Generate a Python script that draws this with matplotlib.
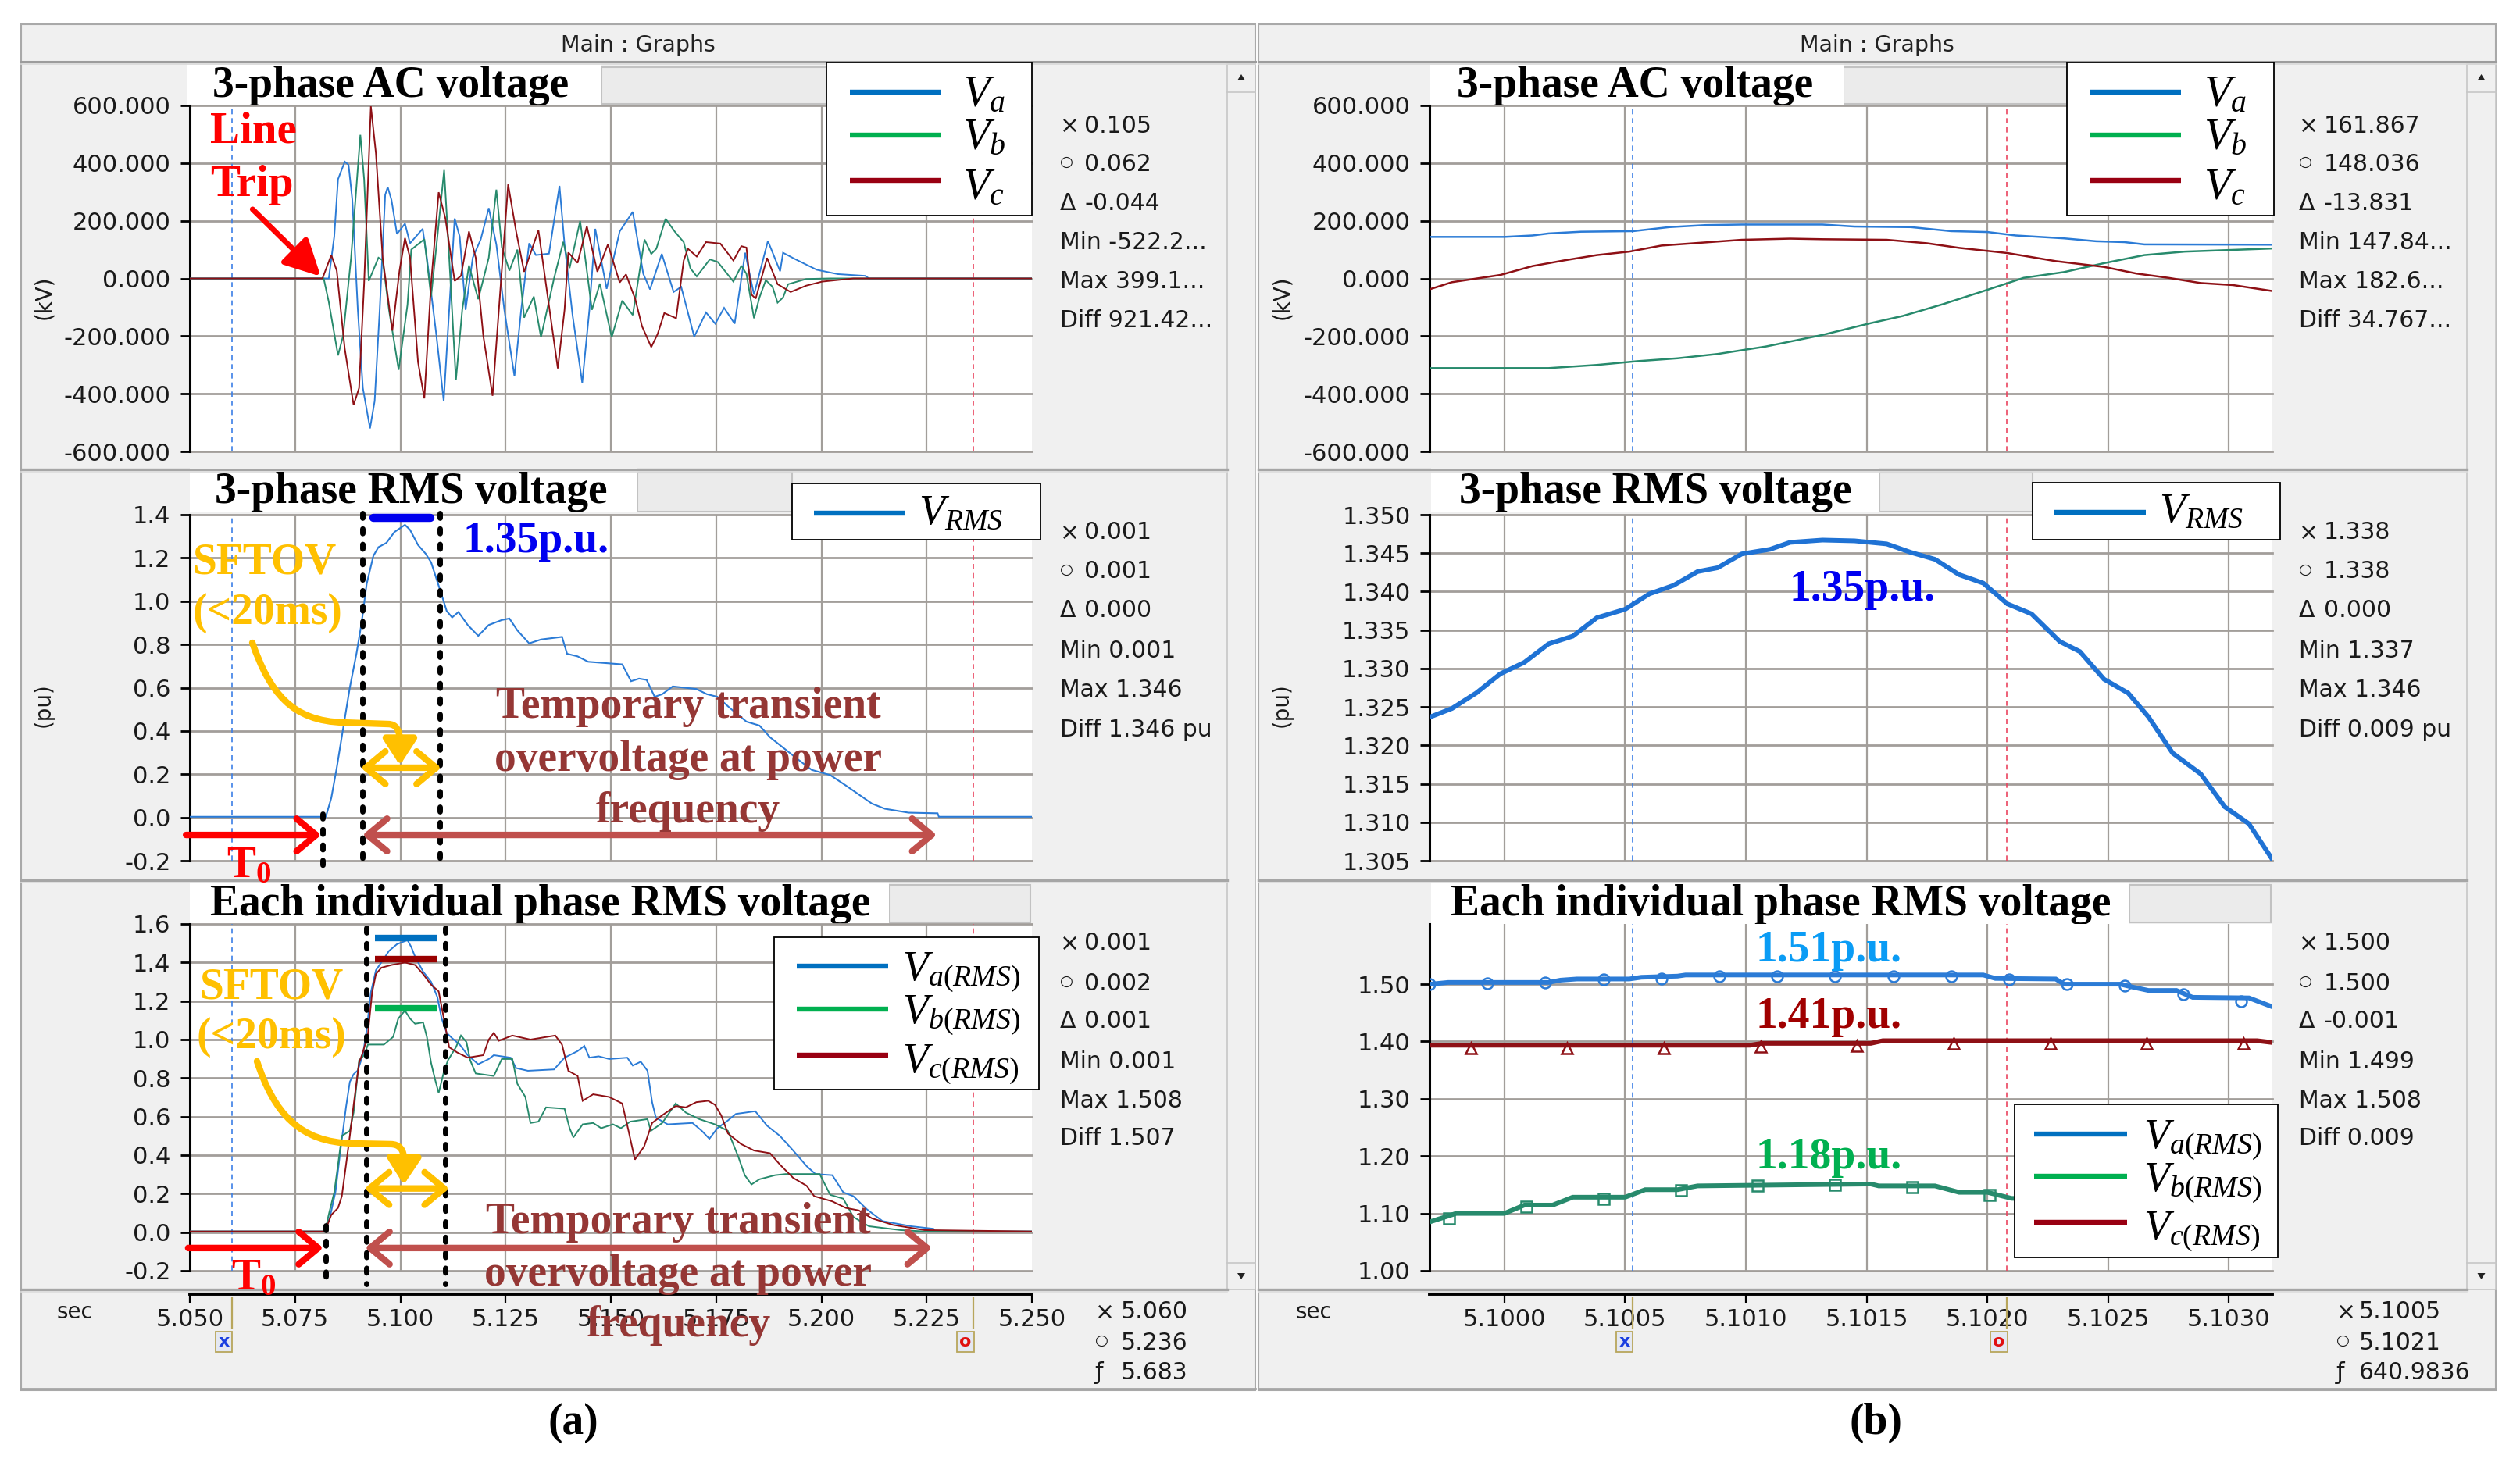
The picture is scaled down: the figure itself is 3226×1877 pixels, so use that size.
import numpy as np
import matplotlib
matplotlib.use("Agg")
import matplotlib.pyplot as plt
from matplotlib.patches import Rectangle, PathPatch, Polygon
from matplotlib.path import Path
import matplotlib.transforms as mtrans

plt.rcParams['font.family'] = ['DejaVu Sans']
plt.rcParams['mathtext.fontset'] = 'custom'
plt.rcParams['mathtext.rm'] = 'Liberation Serif'
plt.rcParams['mathtext.it'] = 'Liberation Serif:italic'
plt.rcParams['mathtext.bf'] = 'Liberation Serif:bold'

# ======================= DATA =======================
# (a) 3-phase AC voltage (time s, kV)
a_ac_va = [(5.050, 0), (5.0830, 0), (5.0843, 145), (5.0852, 344), (5.0868, 405), (5.0877, 394), (5.0886, 272),
           (5.0899, -109), (5.0911, -380), (5.0928, -520), (5.0939, -425), (5.0951, -109), (5.0964, 290),
           (5.0970, 317), (5.0979, 272), (5.0992, 154), (5.1011, 190), (5.1023, 122), (5.1053, 172),
           (5.1063, 72), (5.1085, -190), (5.1103, -425), (5.1116, -109), (5.1129, 208), (5.1141, 145),
           (5.1155, -109), (5.1172, 72), (5.1191, 136), (5.1210, 244), (5.1228, 118), (5.1247, -109),
           (5.1271, -339), (5.1287, -109), (5.1306, 122), (5.1322, 81), (5.1353, 86), (5.1378, 321),
           (5.1390, 118), (5.1409, -127), (5.1432, -362), (5.1449, -109), (5.1463, 172), (5.1490, -36),
           (5.1521, 163), (5.1552, 231), (5.1577, 16), (5.1593, -38), (5.1621, 85), (5.1649, -47),
           (5.1667, -29), (5.1698, -202), (5.1726, -118), (5.1748, -157), (5.1769, -102), (5.1794, -157),
           (5.1819, 89), (5.1840, -56), (5.1873, 130), (5.1902, 25), (5.1909, 89), (5.1939, 66),
           (5.1989, 30), (5.2039, 15), (5.2104, 9), (5.2113, 0), (5.250, 0)]
a_ac_vb = [(5.050, 0), (5.0818, 0), (5.0830, -81), (5.0852, -267), (5.0864, -199), (5.0883, 72), (5.0905, 498),
           (5.0914, 344), (5.0925, -9), (5.0948, 72), (5.0958, 63), (5.0973, -109), (5.0996, -317),
           (5.1017, -91), (5.1026, 100), (5.1057, 136), (5.1073, -63), (5.1088, 145), (5.1104, 376),
           (5.1116, 72), (5.1132, -353), (5.1147, -109), (5.1163, 45), (5.1185, -72), (5.1210, 72),
           (5.1228, 308), (5.1241, 109), (5.1259, 27), (5.1278, 100), (5.1294, -136), (5.1317, -63),
           (5.1334, -204), (5.1365, 0), (5.1387, 127), (5.1402, 36), (5.1427, 199), (5.1439, 72),
           (5.1455, -109), (5.1474, -18), (5.1502, -204), (5.1527, -77), (5.1552, -127), (5.1580, 135),
           (5.1596, 85), (5.1608, 103), (5.1630, 207), (5.1652, 162), (5.1673, 126), (5.1689, 35),
           (5.1704, 7), (5.1735, 66), (5.1754, 57), (5.1791, -11), (5.1810, 44), (5.1822, 16),
           (5.1840, -138), (5.1853, -66), (5.1868, -6), (5.1884, -29), (5.1896, -84), (5.1909, -66),
           (5.1921, -20), (5.1964, -2), (5.2020, 0), (5.250, 0)]
a_ac_vc = [(5.050, 0), (5.0815, 0), (5.0836, 81), (5.0849, 27), (5.0868, -244), (5.0889, -439), (5.0902, -380),
           (5.0914, -18), (5.0930, 597), (5.0942, 434), (5.0958, 72), (5.0981, -181), (5.0998, 27),
           (5.1011, 140), (5.1023, 72), (5.1042, -290), (5.1057, -416), (5.1073, -18), (5.1091, 299),
           (5.1107, 208), (5.1129, -9), (5.1144, 9), (5.1163, 163), (5.1179, 72), (5.1197, -199),
           (5.1219, -407), (5.1234, -109), (5.1256, 326), (5.1275, 163), (5.1294, 23), (5.1328, 167),
           (5.1350, -63), (5.1374, -312), (5.1390, -109), (5.1399, 90), (5.1421, 54), (5.1443, 181),
           (5.1468, 23), (5.1493, 118), (5.1521, -14), (5.1536, 14), (5.1558, -72), (5.1574, -166),
           (5.1596, -238), (5.1611, -193), (5.1627, -120), (5.1655, -138), (5.1673, 62), (5.1683, 103),
           (5.1704, 76), (5.1726, 126), (5.1760, 121), (5.1791, 62), (5.1810, 112), (5.1822, 107),
           (5.1834, -56), (5.1844, -70), (5.1871, 71), (5.1896, -20), (5.1927, -47), (5.1964, -25),
           (5.2002, -11), (5.2076, 0), (5.250, 0)]

# (a) 3-phase RMS voltage (pu)
a_rms = [(5.050, 0.003), (5.0823, 0.003), (5.0836, 0.09), (5.0849, 0.23), (5.0864, 0.41), (5.0880, 0.60),
         (5.0896, 0.76), (5.0908, 0.90), (5.0920, 1.08), (5.0936, 1.21), (5.0948, 1.25), (5.0967, 1.27),
         (5.0986, 1.32), (5.1011, 1.353), (5.1023, 1.33), (5.1042, 1.26), (5.1060, 1.22), (5.1073, 1.18),
         (5.1088, 1.09), (5.1098, 1.03), (5.1110, 0.955), (5.1123, 0.925), (5.1138, 0.95), (5.1160, 0.89),
         (5.1185, 0.84), (5.1210, 0.89), (5.1241, 0.913), (5.1259, 0.92), (5.1278, 0.865), (5.1306, 0.805),
         (5.1334, 0.823), (5.1384, 0.835), (5.1396, 0.757), (5.1421, 0.745), (5.1446, 0.72), (5.1527, 0.708),
         (5.1548, 0.63), (5.1567, 0.642), (5.1585, 0.636), (5.1604, 0.558), (5.1622, 0.57), (5.1647, 0.606),
         (5.1703, 0.594), (5.1728, 0.57), (5.1753, 0.558), (5.1784, 0.504), (5.1822, 0.443), (5.1853, 0.425),
         (5.1878, 0.371), (5.1909, 0.323), (5.1940, 0.275), (5.1977, 0.22), (5.2021, 0.196), (5.2058, 0.148),
         (5.2089, 0.106), (5.2120, 0.064), (5.2151, 0.04), (5.2207, 0.022), (5.2276, 0.019), (5.2279, 0.003),
         (5.250, 0.003)]

# (a) individual phase RMS voltage (pu)
a_ph_va = [(5.050, 0.004), (5.0821, 0.004), (5.0833, 0.08), (5.0846, 0.21), (5.0858, 0.43), (5.0864, 0.53),
           (5.0871, 0.65), (5.0880, 0.78), (5.0889, 0.82), (5.0899, 0.84), (5.0911, 0.92), (5.0920, 1.05),
           (5.0930, 1.245), (5.0942, 1.36), (5.0958, 1.41), (5.0973, 1.46), (5.0992, 1.495), (5.1017, 1.516),
           (5.1026, 1.48), (5.1035, 1.43), (5.1054, 1.353), (5.1073, 1.30), (5.1088, 1.22), (5.1098, 1.11),
           (5.1110, 1.035), (5.1123, 1.007), (5.1141, 0.974), (5.1160, 0.919), (5.1185, 0.872), (5.1210, 0.899),
           (5.1222, 0.919), (5.1262, 0.906), (5.1275, 0.852), (5.1303, 0.838), (5.1365, 0.845), (5.1390, 0.906),
           (5.1421, 0.94), (5.1437, 0.967), (5.1449, 0.906), (5.1471, 0.913), (5.1496, 0.899), (5.1539, 0.906),
           (5.1552, 0.865), (5.1571, 0.885), (5.1587, 0.838), (5.1598, 0.675), (5.1607, 0.594), (5.1635, 0.56),
           (5.1694, 0.567), (5.1716, 0.526), (5.1734, 0.485), (5.1753, 0.54), (5.1778, 0.58), (5.1797, 0.614),
           (5.1843, 0.628), (5.1871, 0.553), (5.1902, 0.499), (5.1933, 0.424), (5.1965, 0.343), (5.1986, 0.302),
           (5.2026, 0.296), (5.2052, 0.207), (5.2076, 0.187), (5.2108, 0.119), (5.2145, 0.058), (5.2213, 0.031),
           (5.2266, 0.018), (5.2269, 0.004), (5.250, 0.004)]
a_ph_vb = [(5.050, 0.004), (5.0821, 0.004), (5.0830, 0.092), (5.0843, 0.207), (5.0852, 0.35), (5.0861, 0.50),
           (5.0880, 0.526), (5.0889, 0.621), (5.0902, 0.892), (5.0914, 0.919), (5.0923, 0.974), (5.0961, 0.974),
           (5.0983, 1.014), (5.0995, 1.109), (5.1011, 1.15), (5.1023, 1.109), (5.1035, 1.082), (5.1054, 1.089),
           (5.1063, 1.014), (5.1073, 0.879), (5.1082, 0.797), (5.1091, 0.723), (5.1104, 0.838), (5.1113, 0.892),
           (5.1132, 0.96), (5.1144, 1.021), (5.1157, 0.987), (5.1166, 0.892), (5.1179, 0.824), (5.1222, 0.811),
           (5.1241, 0.899), (5.1266, 0.899), (5.1278, 0.77), (5.1297, 0.702), (5.1309, 0.567), (5.1328, 0.574),
           (5.1346, 0.648), (5.1390, 0.641), (5.1402, 0.54), (5.1411, 0.492), (5.1433, 0.56), (5.1458, 0.567),
           (5.1477, 0.54), (5.1505, 0.56), (5.1524, 0.54), (5.1546, 0.574), (5.1587, 0.587), (5.1595, 0.526),
           (5.1622, 0.567), (5.1654, 0.668), (5.1678, 0.621), (5.1710, 0.587), (5.1747, 0.56), (5.1778, 0.526),
           (5.1803, 0.39), (5.1818, 0.296), (5.1834, 0.248), (5.1853, 0.275), (5.1890, 0.296), (5.1915, 0.302),
           (5.1996, 0.302), (5.2021, 0.194), (5.2052, 0.174), (5.2076, 0.079), (5.2113, 0.031), (5.2188, 0.011),
           (5.2245, 0.004), (5.250, 0.004)]
a_ph_vc = [(5.050, 0.004), (5.0821, 0.004), (5.0836, 0.09), (5.0852, 0.126), (5.0861, 0.187), (5.0871, 0.35),
           (5.0880, 0.50), (5.0889, 0.66), (5.0902, 0.88), (5.0911, 0.933), (5.0923, 1.028), (5.0933, 1.245),
           (5.0942, 1.34), (5.0955, 1.373), (5.0979, 1.387), (5.1011, 1.40), (5.1035, 1.387), (5.1054, 1.34),
           (5.1073, 1.285), (5.1091, 1.25), (5.1101, 1.136), (5.1116, 0.96), (5.1135, 0.933), (5.1160, 0.906),
           (5.1197, 0.919), (5.1210, 1.00), (5.1222, 1.035), (5.1234, 0.994), (5.1266, 1.021), (5.1309, 1.00),
           (5.1368, 1.021), (5.1384, 0.974), (5.1399, 0.838), (5.1421, 0.811), (5.1433, 0.682), (5.1458, 0.716),
           (5.1496, 0.702), (5.1527, 0.668), (5.1542, 0.526), (5.1557, 0.377), (5.1579, 0.445), (5.1598, 0.567),
           (5.1622, 0.607), (5.1654, 0.655), (5.1678, 0.648), (5.1703, 0.675), (5.1731, 0.682), (5.1747, 0.662),
           (5.1762, 0.607), (5.1778, 0.513), (5.1809, 0.458), (5.1840, 0.424), (5.1878, 0.41), (5.1902, 0.35),
           (5.1933, 0.282), (5.1965, 0.241), (5.1983, 0.187), (5.2026, 0.16), (5.2058, 0.126), (5.2089, 0.113),
           (5.2120, 0.072), (5.2170, 0.038), (5.2245, 0.011), (5.250, 0.004)]

# (b) zoomed 3-phase AC voltage (kV)
b_ac_va = [(5.099693, 144), (5.1000, 144), (5.100117, 149), (5.100183, 156), (5.100317, 162), (5.100533, 164),
           (5.100683, 178), (5.100833, 185), (5.100983, 187), (5.101317, 187), (5.10145, 180), (5.101683, 178),
           (5.10185, 164), (5.1020, 161), (5.102117, 149), (5.102317, 139), (5.10245, 129), (5.102567, 126),
           (5.10265, 118), (5.103183, 117)]
b_ac_vb = [(5.099693, -311), (5.100183, -311), (5.100383, -300), (5.10055, -287), (5.100717, -277),
           (5.100883, -262), (5.101083, -236), (5.101317, -196), (5.101517, -155), (5.10165, -130),
           (5.101817, -89), (5.101983, -44), (5.10215, 2), (5.102317, 22), (5.102483, 53), (5.10265, 81),
           (5.102817, 93), (5.102983, 98), (5.103183, 104)]
b_ac_vc = [(5.099693, -37), (5.099783, -13), (5.099983, 12), (5.100117, 43), (5.10025, 63), (5.100383, 81),
           (5.100517, 93), (5.10065, 114), (5.10085, 126), (5.100983, 134), (5.101183, 138), (5.101317, 136),
           (5.101583, 134), (5.10175, 122), (5.101883, 106), (5.102083, 88), (5.102283, 60), (5.102483, 40),
           (5.102617, 17), (5.10275, 2), (5.102883, -16), (5.103017, -23), (5.103183, -44)]
# (b) zoomed 3-phase RMS voltage (pu)
b_rms = [(5.099693, 1.3237), (5.099783, 1.3248), (5.099883, 1.3268), (5.099983, 1.3293), (5.100083, 1.3308),
         (5.100183, 1.3332), (5.100283, 1.3342), (5.100383, 1.3366), (5.1005, 1.3377), (5.1006, 1.3397),
         (5.1007, 1.3408), (5.1008, 1.3426), (5.100883, 1.3431), (5.100983, 1.3449), (5.1011, 1.3455),
         (5.101183, 1.3464), (5.101317, 1.3467), (5.10145, 1.3466), (5.101583, 1.3462), (5.101683, 1.3451),
         (5.101783, 1.3442), (5.101883, 1.3422), (5.101983, 1.3411), (5.102083, 1.3384), (5.102183, 1.3371),
         (5.1023, 1.3335), (5.102383, 1.3322), (5.102483, 1.3286), (5.102583, 1.3268), (5.102667, 1.3237),
         (5.102767, 1.3190), (5.102883, 1.3163), (5.102983, 1.3120), (5.103083, 1.3098), (5.103177, 1.3053)]
# (b) zoomed individual phase RMS (pu)
b_ph_va = [(5.099693, 1.500), (5.099767, 1.503), (5.100183, 1.503), (5.100233, 1.507), (5.1003, 1.509),
           (5.100517, 1.509), (5.100567, 1.512), (5.100717, 1.514), (5.10075, 1.516), (5.101983, 1.516),
           (5.102033, 1.510), (5.102283, 1.509), (5.102317, 1.500), (5.10255, 1.500), (5.1026, 1.495),
           (5.102667, 1.489), (5.102783, 1.489), (5.10285, 1.477), (5.103083, 1.476), (5.103183, 1.460)]
b_ph_vb = [(5.099693, 1.0855), (5.099767, 1.0954), (5.0998, 1.100), (5.1000, 1.100), (5.100083, 1.1145),
           (5.1002, 1.1145), (5.100283, 1.1283), (5.1005, 1.1283), (5.100583, 1.1414), (5.100717, 1.1414),
           (5.1008, 1.148), (5.101517, 1.1513), (5.10155, 1.148), (5.101783, 1.148), (5.101883, 1.1368),
           (5.1020, 1.1368), (5.1021, 1.1263), (5.103183, 1.120)]
b_ph_vc = [(5.099693, 1.3934), (5.101017, 1.3934), (5.101067, 1.3967), (5.101517, 1.3967), (5.101567, 1.4013),
           (5.103117, 1.4013), (5.103183, 1.398)]
# symbol markers on (b) phase RMS curves
b_mk_va = [(5.09969, 1.500), (5.09993, 1.502), (5.10017, 1.503), (5.10041, 1.508), (5.10065, 1.510),
           (5.10089, 1.514), (5.10113, 1.514), (5.10137, 1.514), (5.10161, 1.514), (5.10185, 1.514),
           (5.10209, 1.508), (5.10233, 1.500), (5.10257, 1.498), (5.10281, 1.482), (5.10305, 1.470)]
b_mk_vb = [(5.09977, 1.091), (5.10009, 1.112), (5.10041, 1.126), (5.10073, 1.141), (5.10105, 1.148),
           (5.10137, 1.150), (5.10169, 1.146), (5.10201, 1.132)]
b_mk_vc = [(5.09986, 1.388), (5.10026, 1.388), (5.10066, 1.388), (5.10106, 1.391), (5.10146, 1.392),
           (5.10186, 1.396), (5.10226, 1.396), (5.10266, 1.396), (5.10306, 1.396)]

# cursors
a_cursor_x, a_cursor_o = 5.060, 5.236
b_cursor_x, b_cursor_o = 5.10053, 5.10208

# ticks
a_xticks = [5.050, 5.075, 5.100, 5.125, 5.150, 5.175, 5.200, 5.225, 5.250]
a_xlabels = ['5.050', '5.075', '5.100', '5.125', '5.150', '5.175', '5.200', '5.225', '5.250']
b_xticks = [5.1000, 5.1005, 5.1010, 5.1015, 5.1020, 5.1025, 5.1030]
b_xlabels = ['5.1000', '5.1005', '5.1010', '5.1015', '5.1020', '5.1025', '5.1030']
ac_yticks = [-600, -400, -200, 0, 200, 400, 600]
ac_ylabels = ['-600.000', '-400.000', '-200.000', '0.000', '200.000', '400.000', '600.000']
a_rms_yticks = [-0.2, 0.0, 0.2, 0.4, 0.6, 0.8, 1.0, 1.2, 1.4]
a_rms_ylabels = ['-0.2', '0.0', '0.2', '0.4', '0.6', '0.8', '1.0', '1.2', '1.4']
a_ph_yticks = [-0.2, 0.0, 0.2, 0.4, 0.6, 0.8, 1.0, 1.2, 1.4, 1.6]
a_ph_ylabels = ['-0.2', '0.0', '0.2', '0.4', '0.6', '0.8', '1.0', '1.2', '1.4', '1.6']
b_rms_yticks = [1.305, 1.310, 1.315, 1.320, 1.325, 1.330, 1.335, 1.340, 1.345, 1.350]
b_rms_ylabels = ['1.305', '1.310', '1.315', '1.320', '1.325', '1.330', '1.335', '1.340', '1.345', '1.350']
b_ph_yticks = [1.00, 1.10, 1.20, 1.30, 1.40, 1.50]
b_ph_ylabels = ['1.00', '1.10', '1.20', '1.30', '1.40', '1.50']

# readouts
a_read = [[('×', '0.105'), ('○', '0.062'), ('Δ', '-0.044'), (None, 'Min -522.2...'), (None, 'Max 399.1...'), (None, 'Diff 921.42...')],
          [('×', '0.001'), ('○', '0.001'), ('Δ', '0.000'), (None, 'Min 0.001'), (None, 'Max 1.346'), (None, 'Diff 1.346 pu')],
          [('×', '0.001'), ('○', '0.002'), ('Δ', '0.001'), (None, 'Min 0.001'), (None, 'Max 1.508'), (None, 'Diff 1.507')]]
b_read = [[('×', '161.867'), ('○', '148.036'), ('Δ', '-13.831'), (None, 'Min 147.84...'), (None, 'Max 182.6...'), (None, 'Diff 34.767...')],
          [('×', '1.338'), ('○', '1.338'), ('Δ', '0.000'), (None, 'Min 1.337'), (None, 'Max 1.346'), (None, 'Diff 0.009 pu')],
          [('×', '1.500'), ('○', '1.500'), ('Δ', '-0.001'), (None, 'Min 1.499'), (None, 'Max 1.508'), (None, 'Diff 0.009')]]
a_xread = [('×', '5.060'), ('○', '5.236'), ('ƒ', '5.683')]
b_xread = [('×', '5.1005'), ('○', '5.1021'), ('ƒ', '640.9836')]

# ======================= STYLE / LAYOUT =======================
W, H, DPI = 3226, 1877, 100
fig = plt.figure(figsize=(W / DPI, H / DPI), dpi=DPI)
fig.patch.set_facecolor('white')
YPIX = mtrans.Affine2D().scale(1, -1).translate(0, H)

SERIF = 'Liberation Serif'
PANEL = '#f0f0f0'
GRID = '#a29e9a'
C_VA, C_VB, C_VC = '#2b7bd6', '#278a6c', '#8e1015'
L_VA, L_VB, L_VC = '#0070c0', '#00b050', '#990012'
ORANGE = '#ffc000'
BROWN_T = '#953735'
BROWN_A = '#c0504d'
TXT = '#1a1a1a'


def frac(x0, y0, x1, y1):
    return [x0 / W, 1 - y1 / H, (x1 - x0) / W, (y1 - y0) / H]


bg = fig.add_axes([0, 0, 1, 1], zorder=0)
bg.set_xlim(0, W); bg.set_ylim(H, 0); bg.axis('off')
ov = fig.add_axes([0, 0, 1, 1], zorder=20)
ov.set_xlim(0, W); ov.set_ylim(H, 0); ov.axis('off')

# window frames
for fx0, fx1, sx in [(27, 1607, 1571), (1611, 3195, 3158)]:
    bg.add_patch(Rectangle((fx0, 31), fx1 - fx0, 1749, fc=PANEL, ec='#a9a9a9', lw=1.5))
    bg.plot([fx0, fx1], [79, 79], color='#9c9c9c', lw=2.2)
    bg.plot([fx0, fx1], [82, 82], color='#d8d8d8', lw=1.2)
    for yy in [601, 1127, 1651]:
        bg.plot([fx0, sx], [yy, yy], color='#a6a6a6', lw=2.4)
        bg.plot([fx0, sx], [yy + 3, yy + 3], color='#dcdcdc', lw=1.2)
    bg.plot([fx0, fx1], [1778, 1778], color='#a6a6a6', lw=2)
    bg.add_patch(Rectangle((sx, 82), fx1 - sx, 1569, fc='#f0f0f0', ec='#c6c6c6', lw=1.2))
    bg.plot([sx, fx1], [118, 118], color='#c6c6c6', lw=1.2)
    bg.plot([sx, fx1], [1617, 1617], color='#c6c6c6', lw=1.2)
    cx = (sx + fx1) / 2
    bg.add_patch(Polygon([[cx - 5, 103], [cx + 5, 103], [cx, 95]], closed=True, fc='#222222', ec='none'))
    bg.add_patch(Polygon([[cx - 5, 1630], [cx + 5, 1630], [cx, 1638]], closed=True, fc='#222222', ec='none'))
    bg.text((fx0 + fx1) / 2, 58, 'Main : Graphs', ha='center', va='center', fontsize=20.5, color='#222222')

# title boxes
titles = [('3-phase AC voltage', (239, 80, 770, 135), 272, 124, (770, 86, 1058, 133)),
          ('3-phase RMS voltage', (243, 599, 816, 655), 275, 644, (816, 605, 1014, 655)),
          ('Each individual phase RMS voltage', (243, 1129, 1138, 1183), 269, 1172, (1138, 1133, 1319, 1181)),
          ('3-phase AC voltage', (1830, 80, 2360, 135), 1865, 124, (2360, 86, 2646, 133)),
          ('3-phase RMS voltage', (1832, 599, 2406, 655), 1868, 644, (2406, 605, 2602, 655)),
          ('Each individual phase RMS voltage', (1832, 1129, 2726, 1183), 1857, 1172, (2726, 1133, 2907, 1181))]
for txt, (x0, y0, x1, y1), tx, ty, (gx0, gy0, gx1, gy1) in titles:
    bg.add_patch(Rectangle((gx0, gy0), gx1 - gx0, gy1 - gy0, fc='#ebebeb', ec='#c2c2c2', lw=1.5))
    bg.add_patch(Rectangle((x0, y0), x1 - x0, y1 - y0, fc='white', ec='none'))
    bg.text(tx, ty, txt, family=SERIF, fontweight='bold', fontsize=40, va='baseline', ha='left', color='black')

# readouts
rows = [[161, 210, 260, 310, 360, 410], [682, 732, 782, 833, 883, 934], [1208, 1259, 1308, 1360, 1409, 1458]]
for reads, xs, xv in [(a_read, 1357, 1388), (b_read, 2943, 2975)]:
    for panel, ys in zip(reads, rows):
        for (sym, val), yy in zip(panel, ys):
            if sym is None:
                bg.text(xs, yy, val, fontsize=21.5, va='center', ha='left', color=TXT)
            else:
                fs = 14 if sym == '○' else 21.5
                dy = -3 if sym == '○' else 0
                bg.text(xs, yy + dy, sym, fontsize=fs, va='center', ha='left', color=TXT)
                bg.text(xv, yy, val, fontsize=21.5, va='center', ha='left', color=TXT)
for reads, xs, xv in [(a_xread, 1402, 1435), (b_xread, 2991, 3020)]:
    for (sym, val), yy in zip(reads, [1680, 1719, 1757]):
        fs = 14 if sym == '○' else 21.5
        dy = -3 if sym == '○' else 0
        bg.text(xs, yy + dy, sym, fontsize=fs, va='center', ha='left', color=TXT)
        bg.text(xv, yy, val, fontsize=21.5, va='center', ha='left', color=TXT)
for xx in [72, 1659]:
    bg.text(xx, 1680, 'sec', fontsize=20, va='center', ha='left', color=TXT)
for xx in [56, 1641]:
    bg.text(xx, 381, '(kV)', fontsize=20, rotation=90, va='center', ha='center', color=TXT)
    bg.text(xx, 903, '(pu)', fontsize=20, rotation=90, va='center', ha='center', color=TXT)
bg.text(734, 1836, '(a)', family=SERIF, fontweight='bold', fontsize=40, ha='center', va='baseline')
bg.text(2401, 1836, '(b)', family=SERIF, fontweight='bold', fontsize=40, ha='center', va='baseline')


def make_axes(box, xlim, ylim, yticks, ylabels, xgrid, cursors):
    ax = fig.add_axes(frac(*box), zorder=2)
    ax.set_facecolor('white')
    ax.set_xlim(xlim); ax.set_ylim(ylim)
    for s in ['top', 'right', 'bottom']:
        ax.spines[s].set_visible(False)
    ax.spines['left'].set_color('black'); ax.spines['left'].set_linewidth(2.2)
    ax.set_xticks([])
    ax.set_yticks(yticks); ax.set_yticklabels(ylabels, fontsize=22, color=TXT)
    ax.tick_params(axis='y', length=8.6, width=2, pad=9, color='black')
    for y in yticks:
        ax.axhline(y, color=GRID, lw=2.0, zorder=0.5, clip_on=False)
    for x in xgrid:
        ax.axvline(x, color=GRID, lw=1.6, zorder=0.5)
    ax.axvline(cursors[0], color='#3c7fe6', lw=1.2, ls=(0, (4, 3)), zorder=0.8)
    ax.axvline(cursors[1], color='#ea4560', lw=1.2, ls=(0, (4, 3)), zorder=0.8)
    return ax


a_xlim = (5.05, 5.25)
b_xlim = (5.09969, 5.10318)
a_grid = a_xticks[1:-1]
ax1 = make_axes((243, 135, 1321, 578), a_xlim, (-600, 600), ac_yticks, ac_ylabels, a_grid, (a_cursor_x, a_cursor_o))
ax2 = make_axes((243, 659, 1321, 1102), a_xlim, (-0.2, 1.4), a_rms_yticks, a_rms_ylabels, a_grid, (a_cursor_x, a_cursor_o))
ax3 = make_axes((243, 1183, 1321, 1627), a_xlim, (-0.2, 1.6), a_ph_yticks, a_ph_ylabels, a_grid, (a_cursor_x, a_cursor_o))
bx1 = make_axes((1830, 135, 2909, 578), b_xlim, (-600, 600), ac_yticks, ac_ylabels, b_xticks, (b_cursor_x, b_cursor_o))
bx2 = make_axes((1830, 659, 2909, 1102), b_xlim, (1.305, 1.350), b_rms_yticks, b_rms_ylabels, b_xticks, (b_cursor_x, b_cursor_o))
bx3 = make_axes((1830, 1183, 2909, 1627), b_xlim, (1.0, 1.605), b_ph_yticks, b_ph_ylabels, b_xticks, (b_cursor_x, b_cursor_o))


def xy(pairs):
    arr = np.array(pairs, dtype=float)
    return arr[:, 0], arr[:, 1]


for ax, series, lw in [(ax1, [(a_ac_va, C_VA), (a_ac_vb, C_VB), (a_ac_vc, C_VC)], 1.4),
                       (ax2, [(a_rms, C_VA)], 1.5),
                       (ax3, [(a_ph_va, C_VA), (a_ph_vb, C_VB), (a_ph_vc, C_VC)], 1.4),
                       (bx1, [(b_ac_va, C_VA), (b_ac_vb, C_VB), (b_ac_vc, C_VC)], 1.8),
                       (bx2, [(b_rms, '#1f72d4')], 4.3),
                       (bx3, [(b_ph_va, C_VA), (b_ph_vb, C_VB), (b_ph_vc, C_VC)], 4.3)]:
    for data, col in series:
        t, v = xy(data)
        ax.plot(t, v, color=col, lw=lw, zorder=3, solid_joinstyle='miter')

for data, col, mk in [(b_mk_va, C_VA, 'o'), (b_mk_vb, C_VB, 's'), (b_mk_vc, C_VC, '^')]:
    t, v = xy(data)
    bx3.plot(t, v, ls='none', marker=mk, ms=10, mfc='none', mec=col, mew=1.8, zorder=4)


# x strips
def xstrip(x0, x1, xlim, ticks, labels):
    a = fig.add_axes(frac(x0, 1600, x1, 1657), zorder=1.5)
    a.patch.set_alpha(0)
    for s in ['top', 'right', 'left']:
        a.spines[s].set_visible(False)
    a.spines['bottom'].set_linewidth(2.8)
    a.set_xlim(xlim); a.set_yticks([])
    a.set_xticks(ticks); a.set_xticklabels(labels, fontsize=22, color=TXT)
    a.tick_params(axis='x', length=8, width=1.6, pad=5, direction='out')
    return a


sa = xstrip(243, 1321, a_xlim, a_xticks, a_xlabels)
sb = xstrip(1830, 2909, b_xlim, b_xticks, b_xlabels)


def flag(ax, t, letter, color):
    tr = mtrans.blended_transform_factory(ax.transData, YPIX)
    ax.plot([t, t, t - 0.0], [1662, 1698, 1700], transform=tr, color='#b8a65c', lw=1.6, clip_on=False)
    ax.text(t, 1718, letter, transform=tr + mtrans.Affine2D().translate(-10, 0), ha='center', va='center',
            color=color, fontsize=16, fontweight='bold',
            bbox=dict(boxstyle='square,pad=0.15', fc='#e4e8f2', ec='#b8a65c', lw=1.3), clip_on=False)


flag(sa, a_cursor_x, 'x', '#1a3fe0'); flag(sa, a_cursor_o, 'o', '#e01010')
flag(sb, b_cursor_x, 'x', '#1a3fe0'); flag(sb, b_cursor_o, 'o', '#e01010')


# legends (overlay)
def legend(box, items, fs):
    x0, y0, x1, y1 = box
    ov.add_patch(Rectangle((x0, y0), x1 - x0, y1 - y0, fc='white', ec='black', lw=1.3))
    for lx0, lx1, ly, col, tx, ty, lab in items:
        ov.plot([lx0, lx1], [ly, ly], color=col, lw=4.6, solid_capstyle='butt')
        ov.text(tx, ty, lab, fontsize=fs, va='baseline', ha='left', color='black')


legend((1058, 80, 1321, 276), [(1088, 1204, 118, L_VA, 1232, 136, r'$V_a$'),
                               (1088, 1204, 173, L_VB, 1232, 191, r'$V_b$'),
                               (1088, 1204, 231, L_VC, 1232, 255, r'$V_c$')], 41)
legend((2646, 80, 2911, 276), [(2675, 2792, 118, L_VA, 2821, 136, r'$V_a$'),
                               (2675, 2792, 173, L_VB, 2821, 191, r'$V_b$'),
                               (2675, 2792, 231, L_VC, 2821, 255, r'$V_c$')], 41)
legend((1014, 619, 1332, 691), [(1042, 1158, 657, L_VA, 1176, 671, r'$V_{RMS}$')], 39)
legend((2602, 618, 2919, 691), [(2630, 2747, 656, L_VA, 2764, 669, r'$V_{RMS}$')], 39)
legend((991, 1200, 1330, 1395), [(1020, 1137, 1237, L_VA, 1155, 1255, r'$V_{a(RMS)}$'),
                                 (1020, 1137, 1292, L_VB, 1155, 1310, r'$V_{b(RMS)}$'),
                                 (1020, 1137, 1351, L_VC, 1155, 1373, r'$V_{c(RMS)}$')], 39)
legend((2579, 1414, 2916, 1610), [(2604, 2723, 1452, L_VA, 2744, 1470, r'$V_{a(RMS)}$'),
                                  (2604, 2723, 1506, L_VB, 2744, 1525, r'$V_{b(RMS)}$'),
                                  (2604, 2723, 1565, L_VC, 2744, 1587, r'$V_{c(RMS)}$')], 39)


# ======================= ANNOTATIONS =======================
def arrow(ax, p0, p1, color, style, lw, ms=20):
    an = ax.annotate('', xy=p1, xytext=p0, xycoords='data', textcoords='data', annotation_clip=False,
                     arrowprops=dict(arrowstyle=style, color=color, lw=lw, shrinkA=0, shrinkB=0,
                                     mutation_scale=ms, capstyle='round', joinstyle='round'))
    an.arrow_patch.set_clip_on(False)
    an.set_zorder(7)
    return an


def stext(ax, x, y, s, color, fs=40, ha='left'):
    ax.text(x, y, s, color=color, family=SERIF, fontweight='bold', fontsize=fs, ha=ha, va='baseline',
            clip_on=False, zorder=8)


def curve(ax, pts, color):
    (p0, c1, c2, p3, p4, c5, p6) = pts
    path = Path([p0, c1, c2, p3, p4, c5, p6],
                [Path.MOVETO, Path.CURVE4, Path.CURVE4, Path.CURVE4, Path.LINETO, Path.CURVE3, Path.CURVE3])
    ax.add_patch(PathPatch(path, fc='none', ec=color, lw=6, transform=ax.transData, clip_on=False,
                           capstyle='round', joinstyle='round', zorder=7))


def vdash(ax, t, v0, v1):
    ax.plot([t, t], [v0, v1], color='black', lw=5, ls=(0, (0.85, 2.0)), dash_capstyle='round',
            clip_on=False, zorder=6)


CHEV = ',head_length=0.9,head_width=0.75'

# (a) top: line trip
stext(ax1, 5.0548, 470, 'Line', '#ff0000', 41)
stext(ax1, 5.0548, 286, 'Trip', '#ff0000', 41)
arrow(ax1, (5.0649, 240), (5.0811, 7), '#ff0000', '-|>,head_length=1.4,head_width=0.72', 5)

# (a) middle
ax2.plot([5.0936, 5.1071], [1.384, 1.384], color='#0000ee', lw=7.5, solid_capstyle='round', clip_on=False, zorder=6)
stext(ax2, 5.1148, 1.228, '1.35p.u.', '#0000f0')
stext(ax2, 5.0506, 1.129, 'SFTOV', ORANGE)
stext(ax2, 5.0506, 0.896, '(<20ms)', ORANGE)
curve(ax2, [(5.06484, 0.808), (5.0690, 0.58), (5.0740, 0.445), (5.0867, 0.439), (5.0971, 0.432),
            (5.0999, 0.432), (5.0999, 0.35)], ORANGE)
arrow(ax2, (5.0999, 0.36), (5.0999, 0.241), ORANGE, '-|>,head_length=1.0,head_width=0.65', 6)
arrow(ax2, (5.0906, 0.230), (5.1097, 0.230), ORANGE, '<->' + CHEV, 6)
vdash(ax2, 5.0815, 0.017, -0.236)
vdash(ax2, 5.0910, 1.407, -0.236)
vdash(ax2, 5.1094, 1.407, -0.236)
arrow(ax2, (5.0491, -0.081), (5.0812, -0.081), '#ff0000', '->' + CHEV, 6)
ax2.text(5.0587, -0.276, r'T$_\mathbf{0}$', color='#ff0000', family=SERIF, fontweight='bold', fontsize=40,
         va='baseline', ha='left', clip_on=False, zorder=8)
arrow(ax2, (5.0910, -0.081), (5.2274, -0.081), BROWN_A, '<->' + CHEV, 6)
stext(ax2, 5.1684, 0.461, 'Temporary transient', BROWN_T, ha='center')
stext(ax2, 5.1684, 0.215, 'overvoltage at power', BROWN_T, ha='center')
stext(ax2, 5.1684, -0.023, 'frequency', BROWN_T, ha='center')

# (a) bottom
for val, col in [(1.528, L_VA), (1.416, '#990000'), (1.163, L_VB)]:
    ax3.plot([5.0940, 5.1088], [val, val], color=col, lw=6, solid_capstyle='butt', clip_on=False, zorder=6)
stext(ax3, 5.0522, 1.211, 'SFTOV', ORANGE)
stext(ax3, 5.0516, 0.955, '(<20ms)', ORANGE)
curve(ax3, [(5.06595, 0.887), (5.0700, 0.62), (5.0760, 0.465), (5.0888, 0.461), (5.0977, 0.457),
            (5.1009, 0.457), (5.1009, 0.37)], ORANGE)
arrow(ax3, (5.1009, 0.38), (5.1008, 0.246), ORANGE, '-|>,head_length=1.0,head_width=0.65', 6)
arrow(ax3, (5.0915, 0.227), (5.1116, 0.227), ORANGE, '<->' + CHEV, 6)
vdash(ax3, 5.0823, 0.035, -0.277)
vdash(ax3, 5.0919, 1.58, -0.269)
vdash(ax3, 5.1107, 1.58, -0.269)
arrow(ax3, (5.0496, -0.082), (5.0817, -0.082), '#ff0000', '->' + CHEV, 6)
ax3.text(5.0598, -0.297, r'T$_\mathbf{0}$', color='#ff0000', family=SERIF, fontweight='bold', fontsize=40,
         va='baseline', ha='left', clip_on=False, zorder=8)
arrow(ax3, (5.0916, -0.082), (5.2263, -0.082), BROWN_A, '<->' + CHEV, 6)
stext(ax3, 5.1660, -0.004, 'Temporary transient', BROWN_T, ha='center')
stext(ax3, 5.1660, -0.277, 'overvoltage at power', BROWN_T, ha='center')
stext(ax3, 5.1660, -0.540, 'frequency', BROWN_T, ha='center')

# (b)
stext(bx2, 5.101179, 1.3388, '1.35p.u.', '#0000f0')
stext(bx3, 5.101039, 1.5395, '1.51p.u.', '#0a9cf5')
stext(bx3, 5.101039, 1.4244, '1.41p.u.', '#a00000')
stext(bx3, 5.101039, 1.179, '1.18p.u.', '#00b050')

fig.savefig('out.png', dpi=DPI, facecolor='white')
